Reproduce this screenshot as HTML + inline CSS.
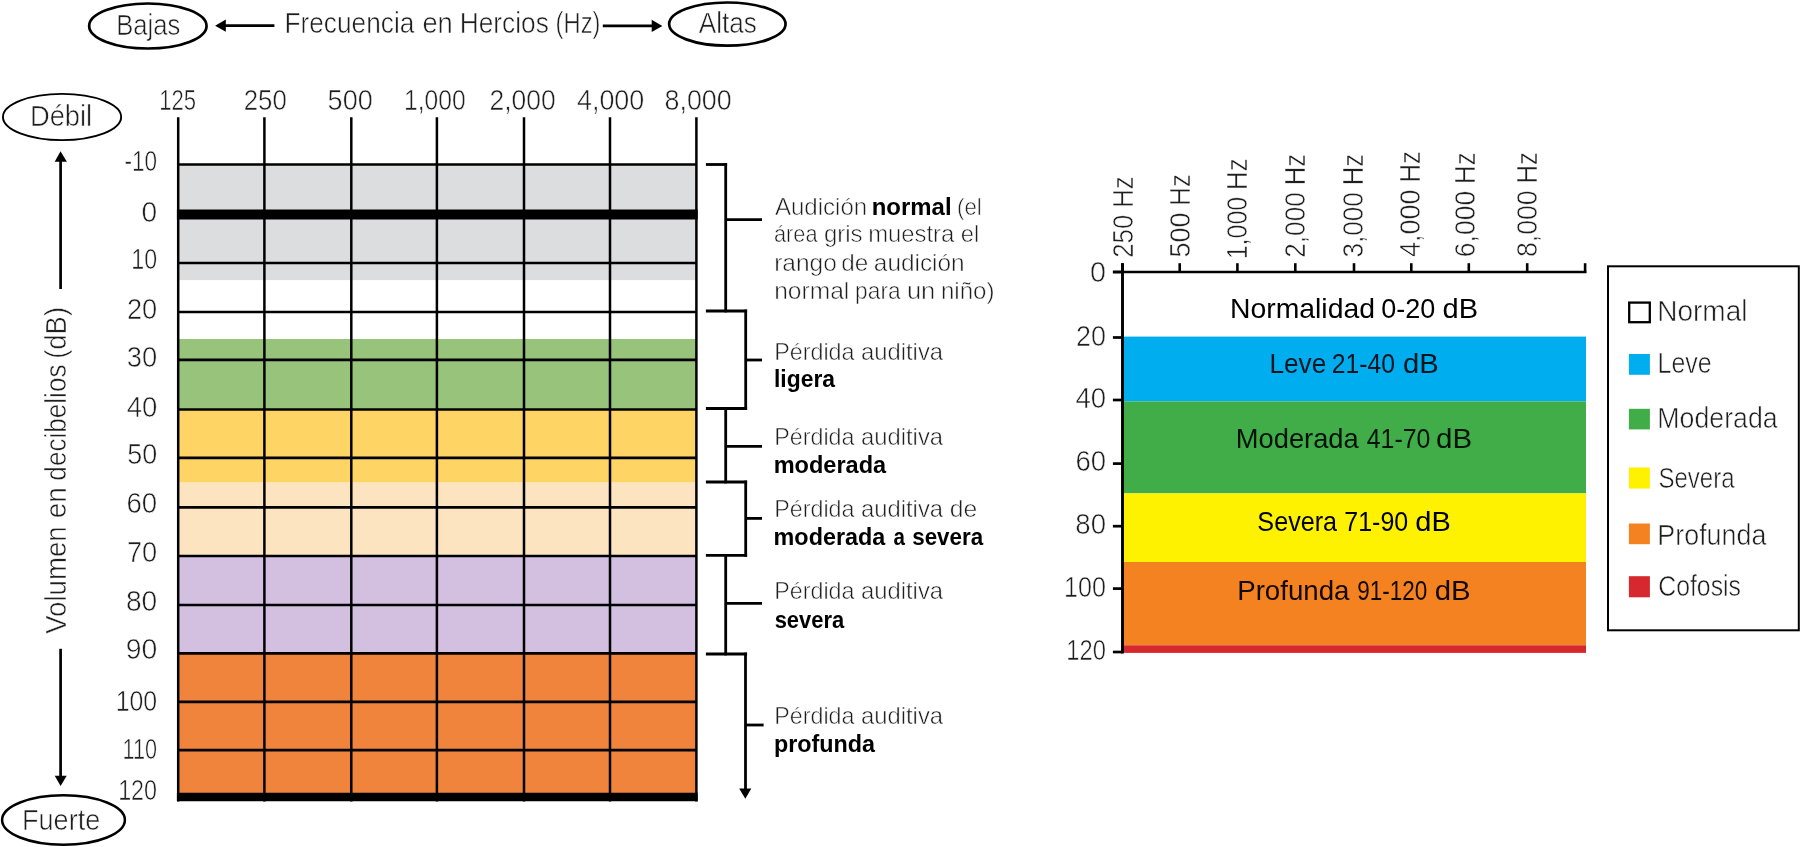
<!DOCTYPE html>
<html><head><meta charset="utf-8"><style>
html,body{margin:0;padding:0;background:#fff;width:1800px;height:847px;overflow:hidden}
svg{display:block;font-family:"Liberation Sans", sans-serif;will-change:transform}
</style></head><body>
<svg width="1800" height="847" viewBox="0 0 1800 847">
<rect width="1800" height="847" fill="#fff"/>
<ellipse cx="147.85" cy="26" rx="58.7" ry="22.5" fill="none" stroke="#000" stroke-width="2.7"/>
<text x="116.25" y="35.2" font-size="29.0" fill="#1e1e1e" textLength="64.09" lengthAdjust="spacingAndGlyphs" stroke="#fff" stroke-width="0.55">Bajas</text>
<line x1="224" y1="25.6" x2="274.4" y2="25.6" stroke="#000" stroke-width="2.7"/>
<polygon points="215.1,25.7 225.8,19.4 225.8,31.8" fill="#000"/>
<text x="284.5" y="32.8" font-size="29.0" fill="#1e1e1e" textLength="129.85" lengthAdjust="spacingAndGlyphs" stroke="#fff" stroke-width="0.55">Frecuencia</text>
<text x="422.41" y="32.8" font-size="29.0" fill="#1e1e1e" textLength="30.44" lengthAdjust="spacingAndGlyphs" stroke="#fff" stroke-width="0.55">en</text>
<text x="459.69" y="32.8" font-size="29.0" fill="#1e1e1e" textLength="89.22" lengthAdjust="spacingAndGlyphs" stroke="#fff" stroke-width="0.55">Hercios</text>
<text x="555.58" y="32.8" font-size="29.0" fill="#1e1e1e" textLength="44.83" lengthAdjust="spacingAndGlyphs" stroke="#fff" stroke-width="0.55">(Hz)</text>
<line x1="602.8" y1="25.9" x2="653" y2="25.9" stroke="#000" stroke-width="2.7"/>
<polygon points="662.4,25.9 651.7,19.7 651.7,32.1" fill="#000"/>
<ellipse cx="727.35" cy="24.1" rx="58.2" ry="21.6" fill="none" stroke="#000" stroke-width="2.7"/>
<text x="698.7" y="32.8" font-size="29.0" fill="#1e1e1e" textLength="58.27" lengthAdjust="spacingAndGlyphs" stroke="#fff" stroke-width="0.55">Altas</text>
<ellipse cx="62.05" cy="117" rx="59.1" ry="23.1" fill="none" stroke="#000" stroke-width="1.9"/>
<text x="29.91" y="125.7" font-size="29.0" fill="#1e1e1e" textLength="62.27" lengthAdjust="spacingAndGlyphs" stroke="#fff" stroke-width="0.55">Débil</text>
<line x1="60.6" y1="160" x2="60.6" y2="289" stroke="#000" stroke-width="2.7"/>
<polygon points="60.5,151.2 54.7,161.7 66.9,161.7" fill="#000"/>
<text transform="translate(65.6,633.7) rotate(-90)" x="-0.14" y="0" font-size="29.0" fill="#1e1e1e" textLength="107.48" lengthAdjust="spacingAndGlyphs" stroke="#fff" stroke-width="0.55">Volumen</text>
<text transform="translate(65.6,517.2) rotate(-90)" x="-1.12" y="0" font-size="29.0" fill="#1e1e1e" textLength="31.1" lengthAdjust="spacingAndGlyphs" stroke="#fff" stroke-width="0.55">en</text>
<text transform="translate(65.6,479.6) rotate(-90)" x="-1.04" y="0" font-size="29.0" fill="#1e1e1e" textLength="116.12" lengthAdjust="spacingAndGlyphs" stroke="#fff" stroke-width="0.55">decibelios</text>
<text transform="translate(65.6,357.2) rotate(-90)" x="-1.65" y="0" font-size="29.0" fill="#1e1e1e" textLength="51.92" lengthAdjust="spacingAndGlyphs" stroke="#fff" stroke-width="0.55">(dB)</text>
<line x1="60.6" y1="648.8" x2="60.6" y2="777" stroke="#000" stroke-width="2.7"/>
<polygon points="60.6,786.1 54.7,775.7 66.7,775.7" fill="#000"/>
<ellipse cx="63.5" cy="820" rx="61.4" ry="24.7" fill="none" stroke="#000" stroke-width="2.5"/>
<text x="22.03" y="829.9" font-size="29.0" fill="#1e1e1e" textLength="78.29" lengthAdjust="spacingAndGlyphs" stroke="#fff" stroke-width="0.55">Fuerte</text>
<rect x="178.2" y="164.6" width="518.2" height="115.70000000000002" fill="#dcdddf"/>
<rect x="178.2" y="280.3" width="518.2" height="58.69999999999999" fill="#ffffff"/>
<rect x="178.2" y="339" width="518.2" height="70.5" fill="#97c47a"/>
<rect x="178.2" y="409.5" width="518.2" height="73.10000000000002" fill="#fed564"/>
<rect x="178.2" y="482.6" width="518.2" height="73.39999999999998" fill="#fde4c0"/>
<rect x="178.2" y="556" width="518.2" height="97" fill="#d3bfe0"/>
<rect x="178.2" y="653" width="518.2" height="144" fill="#f0843c"/>
<line x1="178.2" y1="164.5" x2="696.4" y2="164.5" stroke="#000" stroke-width="2.7"/>
<line x1="176.89999999999998" y1="214.5" x2="697.6999999999999" y2="214.5" stroke="#000" stroke-width="10"/>
<line x1="178.2" y1="263" x2="696.4" y2="263" stroke="#000" stroke-width="2.7"/>
<line x1="178.2" y1="312" x2="696.4" y2="312" stroke="#000" stroke-width="2.7"/>
<line x1="178.2" y1="359.8" x2="696.4" y2="359.8" stroke="#000" stroke-width="2.7"/>
<line x1="178.2" y1="409.5" x2="696.4" y2="409.5" stroke="#000" stroke-width="2.7"/>
<line x1="178.2" y1="457.8" x2="696.4" y2="457.8" stroke="#000" stroke-width="2.7"/>
<line x1="178.2" y1="507.4" x2="696.4" y2="507.4" stroke="#000" stroke-width="2.7"/>
<line x1="178.2" y1="556" x2="696.4" y2="556" stroke="#000" stroke-width="2.7"/>
<line x1="178.2" y1="605" x2="696.4" y2="605" stroke="#000" stroke-width="2.7"/>
<line x1="178.2" y1="653.3" x2="696.4" y2="653.3" stroke="#000" stroke-width="2.7"/>
<line x1="178.2" y1="701.8" x2="696.4" y2="701.8" stroke="#000" stroke-width="2.7"/>
<line x1="178.2" y1="750.2" x2="696.4" y2="750.2" stroke="#000" stroke-width="2.7"/>
<line x1="176.89999999999998" y1="797.1" x2="697.6999999999999" y2="797.1" stroke="#000" stroke-width="8.5"/>
<line x1="178.2" y1="117.3" x2="178.2" y2="801.4" stroke="#000" stroke-width="2.5"/>
<line x1="264.4" y1="117.3" x2="264.4" y2="801.4" stroke="#000" stroke-width="2.5"/>
<line x1="351.3" y1="117.3" x2="351.3" y2="801.4" stroke="#000" stroke-width="2.5"/>
<line x1="436.9" y1="117.3" x2="436.9" y2="801.4" stroke="#000" stroke-width="2.5"/>
<line x1="524.0" y1="117.3" x2="524.0" y2="801.4" stroke="#000" stroke-width="2.5"/>
<line x1="610.0" y1="117.3" x2="610.0" y2="801.4" stroke="#000" stroke-width="2.5"/>
<line x1="696.4" y1="117.3" x2="696.4" y2="801.4" stroke="#000" stroke-width="2.5"/>
<text x="159.14" y="109.5" font-size="29.0" fill="#1e1e1e" textLength="36.92" lengthAdjust="spacingAndGlyphs" stroke="#fff" stroke-width="0.55">125</text>
<text x="243.71" y="109.5" font-size="29.0" fill="#1e1e1e" textLength="43.09" lengthAdjust="spacingAndGlyphs" stroke="#fff" stroke-width="0.55">250</text>
<text x="327.62" y="109.5" font-size="29.0" fill="#1e1e1e" textLength="45.12" lengthAdjust="spacingAndGlyphs" stroke="#fff" stroke-width="0.55">500</text>
<text x="403.95" y="109.5" font-size="29.0" fill="#1e1e1e" textLength="61.67" lengthAdjust="spacingAndGlyphs" stroke="#fff" stroke-width="0.55">1,000</text>
<text x="489.48" y="109.5" font-size="29.0" fill="#1e1e1e" textLength="66.22" lengthAdjust="spacingAndGlyphs" stroke="#fff" stroke-width="0.55">2,000</text>
<text x="576.96" y="109.5" font-size="29.0" fill="#1e1e1e" textLength="67.35" lengthAdjust="spacingAndGlyphs" stroke="#fff" stroke-width="0.55">4,000</text>
<text x="664.49" y="109.5" font-size="29.0" fill="#1e1e1e" textLength="67.22" lengthAdjust="spacingAndGlyphs" stroke="#fff" stroke-width="0.55">8,000</text>
<text x="124.38" y="171.3" font-size="29.0" fill="#1e1e1e" textLength="32.61" lengthAdjust="spacingAndGlyphs" stroke="#fff" stroke-width="0.55">-10</text>
<text x="141.57" y="221.5" font-size="29.0" fill="#1e1e1e" textLength="15.64" lengthAdjust="spacingAndGlyphs" stroke="#fff" stroke-width="0.55">0</text>
<text x="131.26" y="269" font-size="29.0" fill="#1e1e1e" textLength="25.81" lengthAdjust="spacingAndGlyphs" stroke="#fff" stroke-width="0.55">10</text>
<text x="126.94" y="319.3" font-size="29.0" fill="#1e1e1e" textLength="30.28" lengthAdjust="spacingAndGlyphs" stroke="#fff" stroke-width="0.55">20</text>
<text x="126.81" y="367" font-size="29.0" fill="#1e1e1e" textLength="30.41" lengthAdjust="spacingAndGlyphs" stroke="#fff" stroke-width="0.55">30</text>
<text x="126.65" y="416.5" font-size="29.0" fill="#1e1e1e" textLength="30.58" lengthAdjust="spacingAndGlyphs" stroke="#fff" stroke-width="0.55">40</text>
<text x="127.22" y="463.7" font-size="29.0" fill="#1e1e1e" textLength="29.98" lengthAdjust="spacingAndGlyphs" stroke="#fff" stroke-width="0.55">50</text>
<text x="126.52" y="513.3" font-size="29.0" fill="#1e1e1e" textLength="30.71" lengthAdjust="spacingAndGlyphs" stroke="#fff" stroke-width="0.55">60</text>
<text x="126.94" y="561.7" font-size="29.0" fill="#1e1e1e" textLength="30.28" lengthAdjust="spacingAndGlyphs" stroke="#fff" stroke-width="0.55">70</text>
<text x="125.93" y="611.3" font-size="29.0" fill="#1e1e1e" textLength="31.32" lengthAdjust="spacingAndGlyphs" stroke="#fff" stroke-width="0.55">80</text>
<text x="125.72" y="658.9" font-size="29.0" fill="#1e1e1e" textLength="31.53" lengthAdjust="spacingAndGlyphs" stroke="#fff" stroke-width="0.55">90</text>
<text x="115.63" y="711.2" font-size="29.0" fill="#1e1e1e" textLength="41.53" lengthAdjust="spacingAndGlyphs" stroke="#fff" stroke-width="0.55">100</text>
<text x="122.48" y="758.6" font-size="29.0" fill="#1e1e1e" textLength="34.46" lengthAdjust="spacingAndGlyphs" stroke="#fff" stroke-width="0.55">110</text>
<text x="118.15" y="800.3" font-size="29.0" fill="#1e1e1e" textLength="38.95" lengthAdjust="spacingAndGlyphs" stroke="#fff" stroke-width="0.55">120</text>
<line x1="705.9" y1="164.5" x2="727.1" y2="164.5" stroke="#000" stroke-width="2.8"/>
<line x1="725.7" y1="163.1" x2="725.7" y2="312.4" stroke="#000" stroke-width="2.8"/>
<line x1="725.7" y1="219.6" x2="762" y2="219.6" stroke="#000" stroke-width="2.8"/>
<line x1="705.9" y1="311" x2="747.1" y2="311" stroke="#000" stroke-width="2.8"/>
<line x1="745.7" y1="309.6" x2="745.7" y2="409.9" stroke="#000" stroke-width="2.8"/>
<line x1="745.7" y1="360" x2="762" y2="360" stroke="#000" stroke-width="2.8"/>
<line x1="705.9" y1="408.5" x2="747.1" y2="408.5" stroke="#000" stroke-width="2.8"/>
<line x1="725.7" y1="408.5" x2="725.7" y2="483.4" stroke="#000" stroke-width="2.8"/>
<line x1="725.7" y1="446.3" x2="762" y2="446.3" stroke="#000" stroke-width="2.8"/>
<line x1="705.9" y1="482" x2="747.1" y2="482" stroke="#000" stroke-width="2.8"/>
<line x1="745.7" y1="480.6" x2="745.7" y2="556.8" stroke="#000" stroke-width="2.8"/>
<line x1="745.7" y1="518.4" x2="762" y2="518.4" stroke="#000" stroke-width="2.8"/>
<line x1="705.9" y1="555.4" x2="747.1" y2="555.4" stroke="#000" stroke-width="2.8"/>
<line x1="725.7" y1="555.4" x2="725.7" y2="655.4" stroke="#000" stroke-width="2.8"/>
<line x1="725.7" y1="603.4" x2="762" y2="603.4" stroke="#000" stroke-width="2.8"/>
<line x1="705.9" y1="654" x2="747.1" y2="654" stroke="#000" stroke-width="2.8"/>
<line x1="745.5" y1="652.6" x2="745.5" y2="789" stroke="#000" stroke-width="2.8"/>
<line x1="745.5" y1="725" x2="763.6" y2="725" stroke="#000" stroke-width="2.8"/>
<polygon points="745.3,798.7 739.2,788.4 751.3,788.4" fill="#000"/>
<text x="774.9" y="214.8" font-size="24.5" fill="#1e1e1e" textLength="92.29" lengthAdjust="spacingAndGlyphs" stroke="#fff" stroke-width="0.55">Audición</text>
<text x="871.74" y="214.8" font-size="24.5" font-weight="bold" fill="#000" textLength="79.81" lengthAdjust="spacingAndGlyphs">normal</text>
<text x="957.07" y="214.8" font-size="24.5" fill="#1e1e1e" textLength="24.71" lengthAdjust="spacingAndGlyphs" stroke="#fff" stroke-width="0.55">(el</text>
<text x="774.03" y="242.4" font-size="24.5" fill="#1e1e1e" textLength="43.5" lengthAdjust="spacingAndGlyphs" stroke="#fff" stroke-width="0.55">área</text>
<text x="823.94" y="242.4" font-size="24.5" fill="#1e1e1e" textLength="38.63" lengthAdjust="spacingAndGlyphs" stroke="#fff" stroke-width="0.55">gris</text>
<text x="868.15" y="242.4" font-size="24.5" fill="#1e1e1e" textLength="86.21" lengthAdjust="spacingAndGlyphs" stroke="#fff" stroke-width="0.55">muestra</text>
<text x="960.75" y="242.4" font-size="24.5" fill="#1e1e1e" textLength="18.47" lengthAdjust="spacingAndGlyphs" stroke="#fff" stroke-width="0.55">el</text>
<text x="774.21" y="270.8" font-size="24.5" fill="#1e1e1e" textLength="62.64" lengthAdjust="spacingAndGlyphs" stroke="#fff" stroke-width="0.55">rango</text>
<text x="841.23" y="270.8" font-size="24.5" fill="#1e1e1e" textLength="27.02" lengthAdjust="spacingAndGlyphs" stroke="#fff" stroke-width="0.55">de</text>
<text x="873.83" y="270.8" font-size="24.5" fill="#1e1e1e" textLength="90.76" lengthAdjust="spacingAndGlyphs" stroke="#fff" stroke-width="0.55">audición</text>
<text x="774.2" y="299.1" font-size="24.5" fill="#1e1e1e" textLength="75.14" lengthAdjust="spacingAndGlyphs" stroke="#fff" stroke-width="0.55">normal</text>
<text x="855.12" y="299.1" font-size="24.5" fill="#1e1e1e" textLength="45.51" lengthAdjust="spacingAndGlyphs" stroke="#fff" stroke-width="0.55">para</text>
<text x="906.94" y="299.1" font-size="24.5" fill="#1e1e1e" textLength="28.38" lengthAdjust="spacingAndGlyphs" stroke="#fff" stroke-width="0.55">un</text>
<text x="940.93" y="299.1" font-size="24.5" fill="#1e1e1e" textLength="53.6" lengthAdjust="spacingAndGlyphs" stroke="#fff" stroke-width="0.55">niño)</text>
<text x="774.24" y="359.5" font-size="24.5" fill="#1e1e1e" textLength="80.21" lengthAdjust="spacingAndGlyphs" stroke="#fff" stroke-width="0.55">Pérdida</text>
<text x="860.95" y="359.5" font-size="24.5" fill="#1e1e1e" textLength="82.1" lengthAdjust="spacingAndGlyphs" stroke="#fff" stroke-width="0.55">auditiva</text>
<text x="774.0" y="387.2" font-size="24.5" font-weight="bold" fill="#000" textLength="61.04" lengthAdjust="spacingAndGlyphs">ligera</text>
<text x="774.24" y="444.5" font-size="24.5" fill="#1e1e1e" textLength="80.21" lengthAdjust="spacingAndGlyphs" stroke="#fff" stroke-width="0.55">Pérdida</text>
<text x="860.95" y="444.5" font-size="24.5" fill="#1e1e1e" textLength="82.1" lengthAdjust="spacingAndGlyphs" stroke="#fff" stroke-width="0.55">auditiva</text>
<text x="773.67" y="472.9" font-size="24.5" font-weight="bold" fill="#000" textLength="112.48" lengthAdjust="spacingAndGlyphs">moderada</text>
<text x="774.24" y="516.7" font-size="24.5" fill="#1e1e1e" textLength="80.21" lengthAdjust="spacingAndGlyphs" stroke="#fff" stroke-width="0.55">Pérdida</text>
<text x="860.95" y="516.7" font-size="24.5" fill="#1e1e1e" textLength="82.1" lengthAdjust="spacingAndGlyphs" stroke="#fff" stroke-width="0.55">auditiva</text>
<text x="949.71" y="516.7" font-size="24.5" fill="#1e1e1e" textLength="27.46" lengthAdjust="spacingAndGlyphs" stroke="#fff" stroke-width="0.55">de</text>
<text x="773.58" y="544.8" font-size="24.5" font-weight="bold" fill="#000" textLength="111.67" lengthAdjust="spacingAndGlyphs">moderada</text>
<text x="893.48" y="544.8" font-size="24.5" font-weight="bold" fill="#000" textLength="11.44" lengthAdjust="spacingAndGlyphs">a</text>
<text x="912.22" y="544.8" font-size="24.5" font-weight="bold" fill="#000" textLength="70.86" lengthAdjust="spacingAndGlyphs">severa</text>
<text x="774.24" y="599.4" font-size="24.5" fill="#1e1e1e" textLength="80.21" lengthAdjust="spacingAndGlyphs" stroke="#fff" stroke-width="0.55">Pérdida</text>
<text x="860.95" y="599.4" font-size="24.5" fill="#1e1e1e" textLength="82.1" lengthAdjust="spacingAndGlyphs" stroke="#fff" stroke-width="0.55">auditiva</text>
<text x="774.63" y="627.5" font-size="24.5" font-weight="bold" fill="#000" textLength="69.55" lengthAdjust="spacingAndGlyphs">severa</text>
<text x="774.24" y="724" font-size="24.5" fill="#1e1e1e" textLength="80.21" lengthAdjust="spacingAndGlyphs" stroke="#fff" stroke-width="0.55">Pérdida</text>
<text x="860.95" y="724" font-size="24.5" fill="#1e1e1e" textLength="82.1" lengthAdjust="spacingAndGlyphs" stroke="#fff" stroke-width="0.55">auditiva</text>
<text x="773.88" y="752" font-size="24.5" font-weight="bold" fill="#000" textLength="101.15" lengthAdjust="spacingAndGlyphs">profunda</text>
<rect x="1122.5" y="272" width="463.5" height="64.60000000000002" fill="#ffffff"/>
<rect x="1122.5" y="336.6" width="463.5" height="64.79999999999995" fill="#00aeef"/>
<rect x="1122.5" y="401.4" width="463.5" height="92.0" fill="#40ad49"/>
<rect x="1122.5" y="493.4" width="463.5" height="68.60000000000002" fill="#fff200"/>
<rect x="1122.5" y="562" width="463.5" height="83.29999999999995" fill="#f58220"/>
<rect x="1122.5" y="645.3" width="463.5" height="7.600000000000023" fill="#d8282f"/>
<line x1="1112.9" y1="272" x2="1586.3" y2="272" stroke="#000" stroke-width="2.7"/>
<line x1="1122.5" y1="263.2" x2="1122.5" y2="653.4" stroke="#000" stroke-width="2.9"/>
<line x1="1122.5" y1="263.2" x2="1122.5" y2="273" stroke="#000" stroke-width="2.6"/>
<line x1="1179.7" y1="263.2" x2="1179.7" y2="273" stroke="#000" stroke-width="2.6"/>
<line x1="1237.4" y1="263.2" x2="1237.4" y2="273" stroke="#000" stroke-width="2.6"/>
<line x1="1295.3" y1="263.2" x2="1295.3" y2="273" stroke="#000" stroke-width="2.6"/>
<line x1="1354.0" y1="263.2" x2="1354.0" y2="273" stroke="#000" stroke-width="2.6"/>
<line x1="1411.3" y1="263.2" x2="1411.3" y2="273" stroke="#000" stroke-width="2.6"/>
<line x1="1468.8" y1="263.2" x2="1468.8" y2="273" stroke="#000" stroke-width="2.6"/>
<line x1="1527.2" y1="263.2" x2="1527.2" y2="273" stroke="#000" stroke-width="2.6"/>
<line x1="1585.1" y1="263.2" x2="1585.1" y2="273" stroke="#000" stroke-width="2.6"/>
<line x1="1112.9" y1="272" x2="1122.5" y2="272" stroke="#000" stroke-width="2.7"/>
<line x1="1112.9" y1="337.5" x2="1122.5" y2="337.5" stroke="#000" stroke-width="2.7"/>
<line x1="1112.9" y1="400" x2="1122.5" y2="400" stroke="#000" stroke-width="2.7"/>
<line x1="1112.9" y1="463.6" x2="1122.5" y2="463.6" stroke="#000" stroke-width="2.7"/>
<line x1="1112.9" y1="526.2" x2="1122.5" y2="526.2" stroke="#000" stroke-width="2.7"/>
<line x1="1112.9" y1="588.6" x2="1122.5" y2="588.6" stroke="#000" stroke-width="2.7"/>
<line x1="1112.9" y1="652" x2="1122.5" y2="652" stroke="#000" stroke-width="2.7"/>
<text x="1090.05" y="282.4" font-size="29.0" fill="#1e1e1e" textLength="15.99" lengthAdjust="spacingAndGlyphs" stroke="#fff" stroke-width="0.55">0</text>
<text x="1076.05" y="345.7" font-size="29.0" fill="#1e1e1e" textLength="29.95" lengthAdjust="spacingAndGlyphs" stroke="#fff" stroke-width="0.55">20</text>
<text x="1075.45" y="407.6" font-size="29.0" fill="#1e1e1e" textLength="30.58" lengthAdjust="spacingAndGlyphs" stroke="#fff" stroke-width="0.55">40</text>
<text x="1075.42" y="471.2" font-size="29.0" fill="#1e1e1e" textLength="30.6" lengthAdjust="spacingAndGlyphs" stroke="#fff" stroke-width="0.55">60</text>
<text x="1075.36" y="534.4" font-size="29.0" fill="#1e1e1e" textLength="30.67" lengthAdjust="spacingAndGlyphs" stroke="#fff" stroke-width="0.55">80</text>
<text x="1064.12" y="597.3" font-size="29.0" fill="#1e1e1e" textLength="41.85" lengthAdjust="spacingAndGlyphs" stroke="#fff" stroke-width="0.55">100</text>
<text x="1066.32" y="659.7" font-size="29.0" fill="#1e1e1e" textLength="39.59" lengthAdjust="spacingAndGlyphs" stroke="#fff" stroke-width="0.55">120</text>
<text transform="translate(1132.6,256.5) rotate(-90)" x="-1.29" y="0" font-size="29.0" fill="#1e1e1e" textLength="43.09" lengthAdjust="spacingAndGlyphs" stroke="#fff" stroke-width="0.55">250</text>
<text transform="translate(1132.6,205.79999999999998) rotate(-90)" x="-2.06" y="0" font-size="29.0" fill="#1e1e1e" textLength="31.51" lengthAdjust="spacingAndGlyphs" stroke="#fff" stroke-width="0.55">Hz</text>
<text transform="translate(1190,256.5) rotate(-90)" x="-1.08" y="0" font-size="29.0" fill="#1e1e1e" textLength="45.12" lengthAdjust="spacingAndGlyphs" stroke="#fff" stroke-width="0.55">500</text>
<text transform="translate(1190,203.6) rotate(-90)" x="-2.06" y="0" font-size="29.0" fill="#1e1e1e" textLength="31.51" lengthAdjust="spacingAndGlyphs" stroke="#fff" stroke-width="0.55">Hz</text>
<text transform="translate(1247,257.4) rotate(-90)" x="-1.87" y="0" font-size="29.0" fill="#1e1e1e" textLength="62.41" lengthAdjust="spacingAndGlyphs" stroke="#fff" stroke-width="0.55">1,000</text>
<text transform="translate(1247,187.9) rotate(-90)" x="-2.06" y="0" font-size="29.0" fill="#1e1e1e" textLength="31.51" lengthAdjust="spacingAndGlyphs" stroke="#fff" stroke-width="0.55">Hz</text>
<text transform="translate(1305,256.5) rotate(-90)" x="-1.31" y="0" font-size="29.0" fill="#1e1e1e" textLength="65.59" lengthAdjust="spacingAndGlyphs" stroke="#fff" stroke-width="0.55">2,000</text>
<text transform="translate(1305,183.29999999999998) rotate(-90)" x="-2.06" y="0" font-size="29.0" fill="#1e1e1e" textLength="31.51" lengthAdjust="spacingAndGlyphs" stroke="#fff" stroke-width="0.55">Hz</text>
<text transform="translate(1362.6,256.5) rotate(-90)" x="-1.04" y="0" font-size="29.0" fill="#1e1e1e" textLength="65.32" lengthAdjust="spacingAndGlyphs" stroke="#fff" stroke-width="0.55">3,000</text>
<text transform="translate(1362.6,183.29999999999998) rotate(-90)" x="-2.06" y="0" font-size="29.0" fill="#1e1e1e" textLength="31.51" lengthAdjust="spacingAndGlyphs" stroke="#fff" stroke-width="0.55">Hz</text>
<text transform="translate(1420,256.5) rotate(-90)" x="-0.54" y="0" font-size="29.0" fill="#1e1e1e" textLength="67.65" lengthAdjust="spacingAndGlyphs" stroke="#fff" stroke-width="0.55">4,000</text>
<text transform="translate(1420,180.5) rotate(-90)" x="-2.06" y="0" font-size="29.0" fill="#1e1e1e" textLength="31.51" lengthAdjust="spacingAndGlyphs" stroke="#fff" stroke-width="0.55">Hz</text>
<text transform="translate(1475,255.9) rotate(-90)" x="-1.33" y="0" font-size="29.0" fill="#1e1e1e" textLength="66.42" lengthAdjust="spacingAndGlyphs" stroke="#fff" stroke-width="0.55">6,000</text>
<text transform="translate(1475,181.9) rotate(-90)" x="-2.06" y="0" font-size="29.0" fill="#1e1e1e" textLength="31.51" lengthAdjust="spacingAndGlyphs" stroke="#fff" stroke-width="0.55">Hz</text>
<text transform="translate(1537.1,255.9) rotate(-90)" x="-1.2" y="0" font-size="29.0" fill="#1e1e1e" textLength="66.7" lengthAdjust="spacingAndGlyphs" stroke="#fff" stroke-width="0.55">8,000</text>
<text transform="translate(1537.1,181.5) rotate(-90)" x="-2.06" y="0" font-size="29.0" fill="#1e1e1e" textLength="31.51" lengthAdjust="spacingAndGlyphs" stroke="#fff" stroke-width="0.55">Hz</text>
<text x="1229.93" y="318.2" font-size="27.8" fill="#000" textLength="145.11" lengthAdjust="spacingAndGlyphs">Normalidad</text>
<text x="1381.32" y="318.2" font-size="27.8" fill="#000" textLength="54.07" lengthAdjust="spacingAndGlyphs">0-20</text>
<text x="1442.64" y="318.2" font-size="27.8" fill="#000" textLength="35.51" lengthAdjust="spacingAndGlyphs">dB</text>
<text x="1269.4" y="373.2" font-size="27.8" fill="#051520" textLength="56.87" lengthAdjust="spacingAndGlyphs">Leve</text>
<text x="1331.77" y="373.2" font-size="27.8" fill="#051520" textLength="63.17" lengthAdjust="spacingAndGlyphs">21-40</text>
<text x="1402.93" y="373.2" font-size="27.8" fill="#051520" textLength="35.72" lengthAdjust="spacingAndGlyphs">dB</text>
<text x="1235.82" y="448.1" font-size="27.8" fill="#041206" textLength="122.87" lengthAdjust="spacingAndGlyphs">Moderada</text>
<text x="1366.8" y="448.1" font-size="27.8" fill="#041206" textLength="63.53" lengthAdjust="spacingAndGlyphs">41-70</text>
<text x="1436.12" y="448.1" font-size="27.8" fill="#041206" textLength="36.05" lengthAdjust="spacingAndGlyphs">dB</text>
<text x="1257.37" y="530.7" font-size="27.8" fill="#000" textLength="79.72" lengthAdjust="spacingAndGlyphs">Severa</text>
<text x="1344.35" y="530.7" font-size="27.8" fill="#000" textLength="63.89" lengthAdjust="spacingAndGlyphs">71-90</text>
<text x="1415.24" y="530.7" font-size="27.8" fill="#000" textLength="35.51" lengthAdjust="spacingAndGlyphs">dB</text>
<text x="1237.19" y="599.7" font-size="27.8" fill="#120a02" textLength="112.28" lengthAdjust="spacingAndGlyphs">Profunda</text>
<text x="1357.19" y="599.7" font-size="27.8" fill="#120a02" textLength="70.08" lengthAdjust="spacingAndGlyphs">91-120</text>
<text x="1434.72" y="599.7" font-size="27.8" fill="#120a02" textLength="35.94" lengthAdjust="spacingAndGlyphs">dB</text>
<rect x="1608" y="266.3" width="190.8" height="364" fill="none" stroke="#000" stroke-width="2"/>
<rect x="1629.2" y="302.6" width="20.6" height="19.6" fill="none" stroke="#000" stroke-width="2.3"/>
<rect x="1628.9" y="354" width="21" height="20.80000000000001" fill="#00aeef"/>
<rect x="1628.9" y="408.8" width="21" height="20.599999999999966" fill="#40ad49"/>
<rect x="1628.9" y="467.5" width="21" height="21.100000000000023" fill="#fff200"/>
<rect x="1628.9" y="523.5" width="21" height="20.700000000000045" fill="#f58220"/>
<rect x="1628.9" y="576.2" width="21" height="21.09999999999991" fill="#d8282f"/>
<text x="1657.26" y="321.2" font-size="29.0" fill="#1e1e1e" textLength="90.24" lengthAdjust="spacingAndGlyphs" stroke="#fff" stroke-width="0.55">Normal</text>
<text x="1657.5" y="373.3" font-size="29.0" fill="#1e1e1e" textLength="54.21" lengthAdjust="spacingAndGlyphs" stroke="#fff" stroke-width="0.55">Leve</text>
<text x="1657.36" y="427.9" font-size="29.0" fill="#1e1e1e" textLength="120.22" lengthAdjust="spacingAndGlyphs" stroke="#fff" stroke-width="0.55">Moderada</text>
<text x="1658.42" y="487.7" font-size="29.0" fill="#1e1e1e" textLength="76.17" lengthAdjust="spacingAndGlyphs" stroke="#fff" stroke-width="0.55">Severa</text>
<text x="1657.35" y="545.3" font-size="29.0" fill="#1e1e1e" textLength="109.02" lengthAdjust="spacingAndGlyphs" stroke="#fff" stroke-width="0.55">Profunda</text>
<text x="1658.26" y="595.7" font-size="29.0" fill="#1e1e1e" textLength="82.7" lengthAdjust="spacingAndGlyphs" stroke="#fff" stroke-width="0.55">Cofosis</text>
</svg>
</body></html>
